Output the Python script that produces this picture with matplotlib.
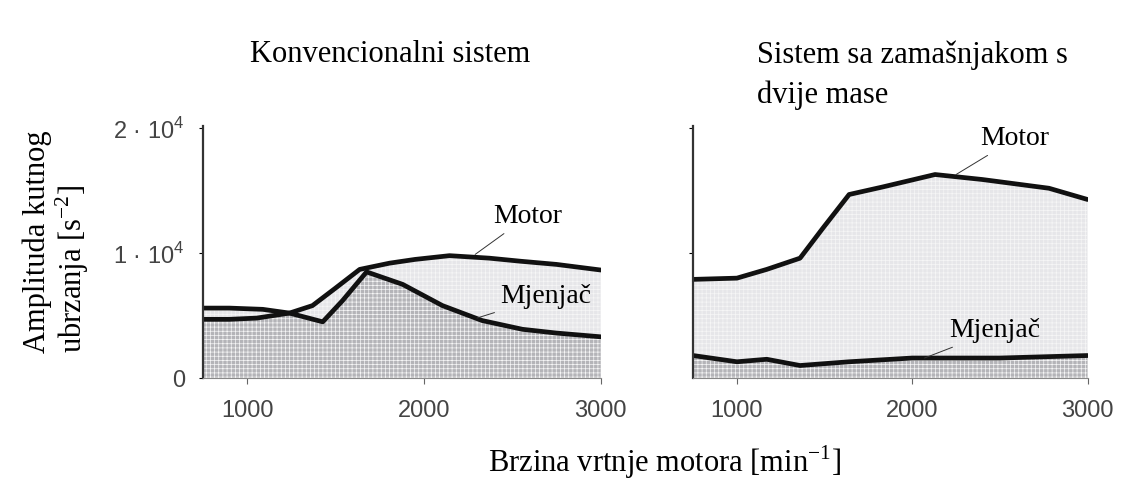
import numpy as np
import matplotlib.pyplot as plt

# left panel: conventional system
rpm_l = [750, 900, 1089, 1240, 1370, 1500, 1637, 1806, 1950, 2145, 2370, 2550, 2750, 3000]
motor_l = [5600, 5600, 5500, 5200, 5800, 7200, 8700, 9200, 9500, 9800, 9600, 9350, 9100, 8650]
rpm_lg = [750, 900, 1055, 1240, 1428, 1540, 1676, 1880, 2105, 2330, 2558, 2750, 3000]
gear_l = [4700, 4700, 4800, 5200, 4500, 6200, 8500, 7500, 5800, 4600, 3900, 3600, 3300]

# right panel: dual mass flywheel
rpm_r = [750, 1000, 1170, 1360, 1490, 1640, 1830, 2130, 2400, 2780, 3000]
motor_r = [7900, 8000, 8700, 9600, 12000, 14700, 15300, 16300, 15900, 15200, 14300]
rpm_rg = [750, 1000, 1170, 1360, 1640, 2000, 2500, 3000]
gear_r = [1800, 1300, 1500, 1000, 1300, 1600, 1600, 1800]

light = '#e6e6e9'
dark = '#b4b4b8'

plt.rcParams['hatch.color'] = '#f6f6f6'
plt.rcParams['hatch.linewidth'] = 0.5
plt.rcParams['mathtext.fontset'] = 'custom'
plt.rcParams['mathtext.rm'] = 'Liberation Serif'
plt.rcParams['mathtext.sf'] = 'Liberation Sans'

fig = plt.figure(figsize=(11.27, 4.84), dpi=100)
axl = fig.add_axes([0.180, 0.219, 0.353, 0.521])
axr = fig.add_axes([0.615, 0.219, 0.350, 0.521])

serif = 'Liberation Serif'
sans = 'Liberation Sans'


def draw(ax, xm, ym, xg, yg):
    grid = np.linspace(750, 3000, 400)
    m = np.interp(grid, xm, ym)
    g = np.interp(grid, xg, yg)
    ax.fill_between(grid, 0, np.maximum(m, g), facecolor=light, hatch='++++', linewidth=0)
    ax.fill_between(grid, 0, g, facecolor=dark, hatch='++++', linewidth=0)
    ax.plot(xm, ym, color='#111111', lw=3.4, solid_capstyle='round', solid_joinstyle='round')
    ax.plot(xg, yg, color='#111111', lw=3.4, solid_capstyle='round', solid_joinstyle='round')
    ax.set_xlim(750, 3000)
    ax.set_ylim(0, 20200)
    ax.set_xticks([1000, 2000, 3000])
    ax.set_xticklabels(['1000', '2000', '3000'], fontfamily=sans, fontsize=17, color='#444444')
    ax.tick_params(axis='x', length=4, pad=12, color='#666666')
    for s in ['top', 'right']:
        ax.spines[s].set_visible(False)
    ax.spines['left'].set_linewidth(1.6)
    ax.spines['left'].set_color('#333333')
    ax.spines['bottom'].set_linewidth(0.8)
    ax.spines['bottom'].set_color('#888888')


draw(axl, rpm_l, motor_l, rpm_lg, gear_l)
draw(axr, rpm_r, motor_r, rpm_rg, gear_r)

axl.set_yticks([0, 10000, 20000])
axl.set_yticklabels(['0', '1 · 10$^{\\mathsf{4}}$', '2 · 10$^{\\mathsf{4}}$'],
                    fontfamily=sans, fontsize=17, color='#444444')
axl.tick_params(axis='y', length=3, pad=10)
axr.set_yticks([10000, 20000])
axr.set_yticklabels([])
axr.tick_params(axis='y', length=3)

# annotations
line = dict(arrowstyle='-', lw=0.7, color='#333333', shrinkA=2, shrinkB=0)
axl.annotate('Motor', xy=(2290, 9900), xytext=(2390, 12400), fontfamily=serif, fontsize=20,
             arrowprops=line)
axl.annotate('Mjenjač', xy=(2300, 4800), xytext=(2430, 6000), fontfamily=serif, fontsize=20,
             arrowprops=line)
axr.annotate('Motor', xy=(2250, 16300), xytext=(2390, 18650), fontfamily=serif, fontsize=20,
             arrowprops=line)
axr.annotate('Mjenjač', xy=(2070, 1600), xytext=(2210, 3250), fontfamily=serif, fontsize=20,
             arrowprops=line)

fig.text(390 / 1127, 1 - 55 / 484, 'Konvencionalni sistem', fontfamily=serif, fontsize=22,
         ha='center', va='center')
fig.text(757 / 1127, 1 - 75 / 484, 'Sistem sa zamašnjakom s\ndvije mase', fontfamily=serif,
         fontsize=22, ha='left', va='center', linespacing=1.45)
fig.text(57 / 1127, 1 - 353 / 484, 'Amplituda kutnog\nubrzanja [s$^{-2}$]', fontfamily=serif,
         fontsize=22, rotation=90, ha='center', va='bottom', multialignment='left',
         linespacing=1.05)
fig.text(665 / 1127, 1 - 462 / 484, 'Brzina vrtnje motora [min$^{-1}$]', fontfamily=serif,
         fontsize=22, ha='center', va='center')

fig.savefig('out.png', dpi=100)
